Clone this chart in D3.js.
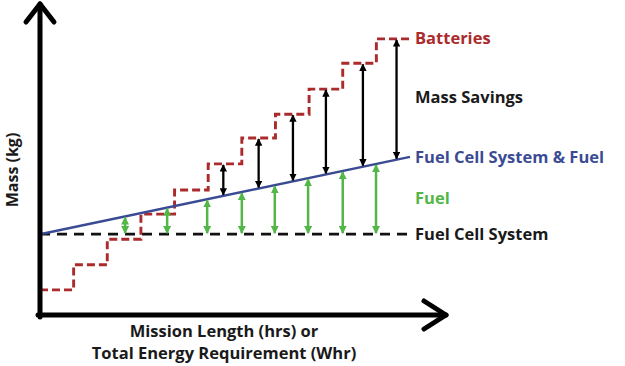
<!DOCTYPE html>
<html><head><meta charset="utf-8">
<script src="https://cdn.jsdelivr.net/npm/d3@7"></script>
<style>body{margin:0;background:#fff}svg{display:block}text{font-family:"Open Sans",Lato,sans-serif;font-weight:700}</style>
</head><body><div id="chart"></div>
<script>
// Step edges along mission length (arbitrary units) and battery mass per step
const stepEdges = [0,1,2,3,4,5,6,7,8,9,10,11];
const batteryMass = [1,2,3.02,4.02,4.98,6.02,7.05,8.0,9.0,10.03,11.0];
const fuelCellSystemMass = 3.22;
const totalMassLine = [{x:0,m:3.22},{x:11,m:6.3}];
const savingsArrowX = [5.45,6.5,7.52,8.5,9.6,10.6];
const fuelArrowX = [2.53,3.78,4.97,6.0,6.98,7.97,9.0,9.99];
const labels = ["Batteries","Mass Savings","Fuel Cell System & Fuel","Fuel","Fuel Cell System"];
const labelMass = [11.05,8.7,6.3,4.65,3.22];
const xTitle = ["Mission Length (hrs) or","Total Energy Requirement (Whr)"];
const yTitle = "Mass (kg)";

const W=625,H=366;
const svg=d3.select("#chart").append("svg").attr("width",W).attr("height",H);
const x=d3.scaleLinear().domain([0,11]).range([40,410]);
const y=d3.scaleLinear().domain([0,12.55]).range([315,0]);

const RED="#ab2a2c",BLUE="#3b4b93",GREEN="#52b748",BLACK="#000";
const defs=svg.append("defs");
function mk(id,color){
  defs.append("marker").attr("id",id).attr("viewBox","0 0 10 10").attr("refX",9).attr("refY",5)
   .attr("markerWidth",3.2).attr("markerHeight",3.2).attr("orient","auto-start-reverse").attr("markerUnits","strokeWidth")
   .append("path").attr("d","M0,0L10,5L0,10Z").attr("fill",color);
}
mk("ab",BLACK);mk("ag",GREEN);

// fuel cell system dashed line
svg.append("line").attr("x1",x(0)).attr("x2",x(11)).attr("y1",y(fuelCellSystemMass)).attr("y2",y(fuelCellSystemMass))
 .attr("stroke","#111").attr("stroke-width",2.8).attr("stroke-dasharray","10,7");

// battery staircase
const stairPts=[];
batteryMass.forEach((m,i)=>{stairPts.push([x(stepEdges[i]),y(m)]);stairPts.push([x(stepEdges[i+1]),y(m)]);});
svg.append("path").attr("d",d3.line()(stairPts)).attr("fill","none").attr("stroke",RED)
 .attr("stroke-width",2.9).attr("stroke-dasharray","8,4");

// total mass line
svg.append("path").attr("d",d3.line().x(d=>x(d.x)).y(d=>y(d.m))(totalMassLine)).attr("fill","none")
 .attr("stroke",BLUE).attr("stroke-width",2.5);
const lineAt=t=>totalMassLine[0].m+(totalMassLine[1].m-totalMassLine[0].m)*t/11;
const batAt=t=>batteryMass[Math.min(10,Math.floor(t))];

// arrows
savingsArrowX.forEach(t=>{
  svg.append("line").attr("x1",x(t)).attr("x2",x(t)).attr("y1",y(batAt(t))+1).attr("y2",y(lineAt(t))-1)
   .attr("stroke",BLACK).attr("stroke-width",2.3).attr("marker-start","url(#ab)").attr("marker-end","url(#ab)");
});
fuelArrowX.forEach(t=>{
  svg.append("line").attr("x1",x(t)).attr("x2",x(t)).attr("y1",y(lineAt(t))+1).attr("y2",y(fuelCellSystemMass)-1)
   .attr("stroke",GREEN).attr("stroke-width",2.5).attr("marker-start","url(#ag)").attr("marker-end","url(#ag)");
});

// axes
const ax=svg.append("g").attr("stroke","#000").attr("fill","none").attr("stroke-linecap","round").attr("stroke-linejoin","round");
ax.append("line").attr("x1",x(0)).attr("x2",x(0)).attr("y1",y(0)+2).attr("y2",4).attr("stroke-width",5);
ax.append("path").attr("d",`M${x(0)-14},22L${x(0)},4L${x(0)+14},22`).attr("stroke-width",5);
ax.append("line").attr("x1",x(0)-2).attr("x2",446).attr("y1",y(0)).attr("y2",y(0)).attr("stroke-width",5);
ax.append("path").attr("d",`M424,${y(0)-14}L446,${y(0)}L424,${y(0)+14}`).attr("stroke-width",5);

// labels
const colors=[RED,"#1a1a1a",BLUE,GREEN,"#1a1a1a"];
labels.forEach((l,i)=>{
  svg.append("text").attr("x",415).attr("y",y(labelMass[i])).attr("dy","0.36em").attr("font-size",16.5)
   .attr("fill",colors[i]).text(l);
});
svg.append("text").attr("x",224).attr("y",337).attr("text-anchor","middle").attr("font-size",16.5).attr("fill","#1a1a1a").text(xTitle[0]);
svg.append("text").attr("x",224).attr("y",359).attr("text-anchor","middle").attr("font-size",16.5).attr("fill","#1a1a1a").text(xTitle[1]);
svg.append("text").attr("transform","translate(18,170) rotate(-90)").attr("text-anchor","middle").attr("font-size",16)
 .attr("fill","#1a1a1a").text(yTitle);
</script></body></html>
